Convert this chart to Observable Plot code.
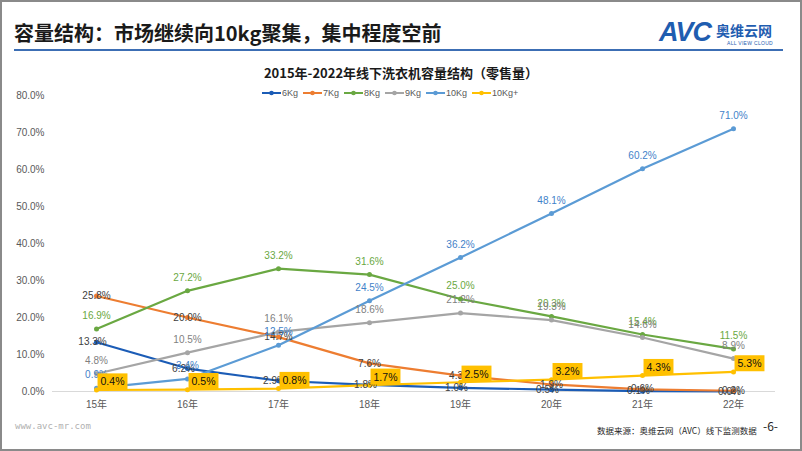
<!DOCTYPE html>
<html><head><meta charset="utf-8">
<script src="https://cdn.jsdelivr.net/npm/d3@7"></script>
<script src="https://cdn.jsdelivr.net/npm/@observablehq/plot@0.6"></script>
<style>
body{margin:0;background:#fff;font-family:"Noto Sans CJK SC","Noto Sans",sans-serif;}
#slide{position:relative;width:802px;height:451px;overflow:hidden;background:#fff;}
#chart{position:absolute;left:0;top:0;}
.abs{position:absolute;white-space:nowrap;}
#legend{position:absolute;left:262px;top:86px;display:flex;gap:5px;font-size:9px;color:#595959;line-height:14px;font-family:"Liberation Sans","Noto Sans CJK SC",sans-serif;}
#legend .it{display:flex;align-items:center;gap:1px;}
</style></head><body>
<div id="slide">
<div id="chart"></div>
<div class="abs" style="left:14px;top:18px;font-size:20px;font-weight:700;color:#1a1a1a;line-height:30px">容量结构：市场继续向10kg聚集，集中程度空前</div>
<div class="abs" style="left:14px;top:49px;width:769px;height:2px;background:#3c6eb4"></div>
<div class="abs" style="left:659px;top:17px;font-family:'Liberation Sans',sans-serif;font-size:27px;font-weight:700;font-style:italic;color:#1f5db0;letter-spacing:-1px;line-height:30px">AVC</div>
<div class="abs" style="left:716px;top:21px;font-size:14px;font-weight:700;color:#1f5db0;line-height:18px">奥维云网</div>
<div class="abs" style="left:727px;top:40px;font-family:'Liberation Sans',sans-serif;font-size:5px;color:#1f5db0;line-height:6px;letter-spacing:0.3px">ALL VIEW CLOUD</div>
<div class="abs" style="left:0;width:802px;top:64px;text-align:center;font-size:13px;font-weight:700;color:#1a1a1a;line-height:18px">2015年-2022年线下洗衣机容量结构（零售量）</div>
<div id="legend"></div>
<div class="abs" style="left:15px;top:420px;font-family:'DejaVu Sans Mono',monospace;font-size:9px;color:#b0b0b0;line-height:12px">www.avc-mr.com</div>
<div class="abs" style="left:597px;top:424px;font-size:8.5px;color:#262626;line-height:12px">数据来源：奥维云网（AVC）线下监测数据</div>
<div class="abs" style="left:763px;top:418px;font-size:12px;color:#262626;line-height:16px">-6-</div>
<div class="abs" style="left:0;top:0;width:802px;height:451px;box-sizing:border-box;border:2px solid #8a8a8a;pointer-events:none"></div>
</div>
<script>
const years = ["15年","16年","17年","18年","19年","20年","21年","22年"];
const seriesNames = ["6Kg","7Kg","8Kg","9Kg","10Kg","10Kg+"];
const colors = ["#1b5cb6","#ed7d31","#6aa842","#a5a5a5","#5b9bd5","#ffc000"];
const v6 = [13.3, 6.2, 2.9, 1.8, 1.0, 0.5, 0.1, 0.0];
const v7 = [25.8, 20.0, 14.7, 7.6, 4.3, 1.9, 0.6, 0.2];
const v8 = [16.9, 27.2, 33.2, 31.6, 25.0, 20.3, 15.4, 11.5];
const v9 = [4.8, 10.5, 16.1, 18.6, 21.2, 19.3, 14.6, 8.9];
const v10 = [0.9, 3.4, 12.5, 24.5, 36.2, 48.1, 60.2, 71.0];
const v10p = [0.4, 0.5, 0.8, 1.7, 2.5, 3.2, 4.3, 5.3];
const yTicks = [0, 10, 20, 30, 40, 50, 60, 70, 80];

const values = [v6, v7, v8, v9, v10, v10p];
const rows = seriesNames.flatMap((s, i) => years.map((y, j) => ({series: s, year: y, value: values[i][j]})));
const fmt = d => d.value.toFixed(1) + "%";

const labelStyle = {
  "6Kg": {dx: -4, dy: 0, fill: "#404040"},
  "7Kg": {dx: 0, dy: 0, fill: "#404040"},
  "8Kg": {dx: 0, dy: -13, fill: "#6aa842"},
  "9Kg": {dx: 0, dy: -13, fill: "#7f7f7f"},
  "10Kg": {dx: 0, dy: -13, fill: "#3f82c9"}
};

const labelMarks = Object.entries(labelStyle).map(([s, st]) =>
  Plot.text(rows.filter(d => d.series === s), {x: "year", y: "value", text: fmt, dx: st.dx, dy: st.dy, fill: st.fill, fontSize: 10})
);

const chart = Plot.plot({
  width: 802, height: 451,
  marginTop: 95, marginBottom: 60, marginLeft: 52, marginRight: 27,
  style: {fontFamily: "'Liberation Sans','Noto Sans CJK SC',sans-serif", fontSize: "10px", color: "#595959", background: "transparent"},
  x: {type: "point", domain: years, range: [96, 733], padding: 0, label: null, tickSize: 0, tickPadding: 9},
  y: {domain: [0, 80], ticks: yTicks, tickFormat: d => d.toFixed(1) + "%", label: null, tickSize: 0, tickPadding: 8},
  color: {domain: seriesNames, range: colors},
  marks: [
    Plot.ruleY([0], {stroke: "#d9d9d9"}),
    Plot.line(rows, {x: "year", y: "value", z: "series", stroke: "series", strokeWidth: 2.2}),
    Plot.dot(rows, {x: "year", y: "value", fill: "series", r: 2.5}),
    ...labelMarks,
    Plot.text(rows.filter(d => d.series === "10Kg+"), {x: "year", y: "value", text: fmt, dx: 16, dy: -8, fill: "#111", fontSize: 10.5, ariaDescription: "boxlab"})
  ]
});
document.getElementById("chart").append(chart);

d3.select(chart).selectAll('g[aria-description="boxlab"] text').each(function () {
  const b = this.getBBox();
  const r = document.createElementNS("http://www.w3.org/2000/svg", "rect");
  r.setAttribute("x", b.x - 3);
  r.setAttribute("y", b.y - 2);
  r.setAttribute("width", b.width + 6);
  r.setAttribute("height", b.height + 4);
  r.setAttribute("fill", "#ffc000");
  const t = this.getAttribute("transform");
  if (t) r.setAttribute("transform", t);
  this.parentNode.insertBefore(r, this);
});

const legend = d3.select("#legend");
seriesNames.forEach((s, i) => {
  const it = legend.append("div").attr("class", "it");
  const sv = it.append("svg").attr("width", 19).attr("height", 8);
  sv.append("line").attr("x1", 0).attr("x2", 19).attr("y1", 4).attr("y2", 4).attr("stroke", colors[i]).attr("stroke-width", 2);
  sv.append("circle").attr("cx", 9.5).attr("cy", 4).attr("r", 2.3).attr("fill", colors[i]);
  it.append("span").text(s);
});
</script>
</body></html>
